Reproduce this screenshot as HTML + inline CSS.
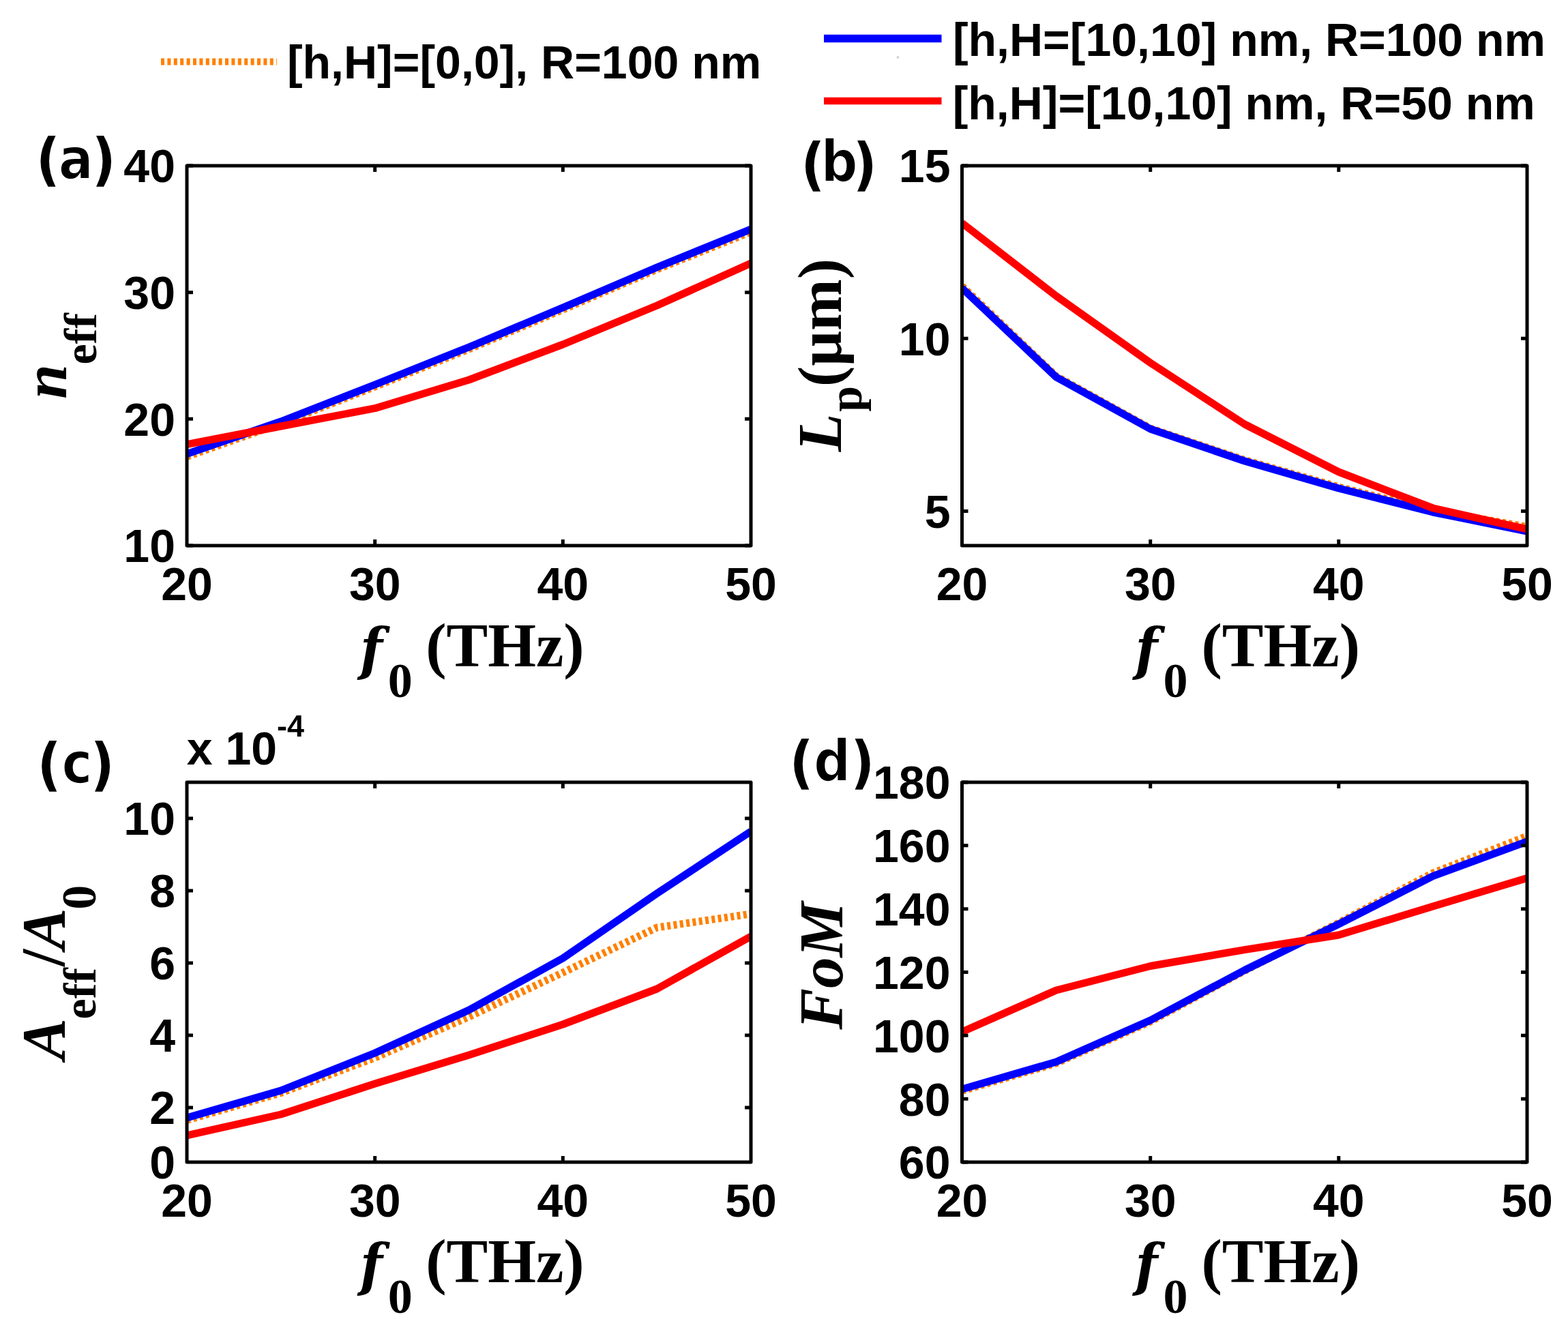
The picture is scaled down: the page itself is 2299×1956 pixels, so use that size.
<!DOCTYPE html>
<html><head><meta charset="utf-8"><title>Figure</title><style>html,body{margin:0;padding:0;background:#fff;overflow:hidden;}svg{display:block;}</style></head><body>
<svg width="2299" height="1956" viewBox="0 0 2299 1956">
<rect x="0" y="0" width="2299" height="1956" fill="#fff"/>
<line x1="236" y1="90.4" x2="406" y2="90.4" stroke="#ff8000" stroke-width="10" stroke-dasharray="5 4.4"/>
<line x1="1208" y1="56.5" x2="1380.5" y2="56.5" stroke="#0000ff" stroke-width="11.5"/>
<line x1="1208" y1="148" x2="1380.5" y2="148" stroke="#ff0000" stroke-width="10.6"/>
<circle cx="1316.5" cy="84" r="2" fill="#d4d4d4"/>
<text x="420.9" y="115.3" font-family='"Liberation Sans", Arial, sans-serif' font-weight="bold" font-size="68">[h,H]=[0,0], R=100 nm</text>
<text x="1396.9" y="81.5" font-family='"Liberation Sans", Arial, sans-serif' font-weight="bold" font-size="68">[h,H=[10,10] nm, R=100 nm</text>
<text x="1396.7" y="174.7" font-family='"Liberation Sans", Arial, sans-serif' font-weight="bold" font-size="68">[h,H]=[10,10] nm, R=50 nm</text>
<clipPath id="cpa"><rect x="274" y="243" width="827" height="557"/></clipPath>
<g fill="none" stroke-linejoin="round" stroke-width="11" clip-path="url(#cpa)">
<polyline points="274.0,669.5 411.8,621.0 549.7,567.0 687.5,512.0 825.3,454.0 963.2,395.0 1101.0,340.0" stroke="#ff8000" stroke-dasharray="5 4.4"/>
<polyline points="274.0,665.5 411.8,618.0 549.7,564.0 687.5,509.0 825.3,451.0 963.2,392.0 1101.0,336.0" stroke="#0000ff"/>
<polyline points="274.0,651.5 411.8,625.0 549.7,598.7 687.5,557.0 825.3,505.0 963.2,448.0 1101.0,386.0" stroke="#ff0000"/>
</g>
<rect x="274" y="243" width="827" height="557" fill="none" stroke="#000" stroke-width="5" stroke-linejoin="round"/>
<path d="M549.7,243v9M549.7,800v-9M825.3,243v9M825.3,800v-9M274,243h9M1101,243h-9M274,428.7h9M1101,428.7h-9M274,614.3h9M1101,614.3h-9M274,800h9M1101,800h-9" stroke="#000" stroke-width="5" fill="none"/>
<text x="274.0" y="880.0" font-family='"Liberation Sans", Arial, sans-serif' font-weight="bold" font-size="68" text-anchor="middle">20</text>
<text x="549.7" y="880.0" font-family='"Liberation Sans", Arial, sans-serif' font-weight="bold" font-size="68" text-anchor="middle">30</text>
<text x="825.3" y="880.0" font-family='"Liberation Sans", Arial, sans-serif' font-weight="bold" font-size="68" text-anchor="middle">40</text>
<text x="1101.0" y="880.0" font-family='"Liberation Sans", Arial, sans-serif' font-weight="bold" font-size="68" text-anchor="middle">50</text>
<text x="257.0" y="267.3" font-family='"Liberation Sans", Arial, sans-serif' font-weight="bold" font-size="68" text-anchor="end">40</text>
<text x="257.0" y="453.0" font-family='"Liberation Sans", Arial, sans-serif' font-weight="bold" font-size="68" text-anchor="end">30</text>
<text x="257.0" y="638.6" font-family='"Liberation Sans", Arial, sans-serif' font-weight="bold" font-size="68" text-anchor="end">20</text>
<text x="257.0" y="824.3" font-family='"Liberation Sans", Arial, sans-serif' font-weight="bold" font-size="68" text-anchor="end">10</text>
<text x="527.9" y="980.7" font-family='"DejaVu Serif Condensed", "DejaVu Serif", serif' font-weight="bold" font-size="85" font-style="italic">f</text>
<text x="568.7" y="1021.9" font-family='"Liberation Serif", "Times New Roman", serif' font-weight="bold" font-size="72">0</text>
<text x="624.2" y="977.2" font-family='"Liberation Serif", "Times New Roman", serif' font-weight="bold" font-size="91">(THz)</text>
<clipPath id="cpb"><rect x="1410.5" y="243" width="828.5" height="557"/></clipPath>
<g fill="none" stroke-linejoin="round" stroke-width="11" clip-path="url(#cpb)">
<polyline points="1410.5,419.5 1548.6,551.5 1686.7,628.0 1824.8,674.5 1962.8,714.0 2100.9,748.5 2239.0,772.5" stroke="#ff8000" stroke-dasharray="5 4.4"/>
<polyline points="1410.5,422.5 1548.6,553.0 1686.7,629.0 1824.8,676.0 1962.8,716.0 2100.9,751.0 2239.0,779.0" stroke="#0000ff"/>
<polyline points="1410.5,327.0 1548.6,434.0 1686.7,532.0 1824.8,622.0 1962.8,692.0 2100.9,745.0 2239.0,776.0" stroke="#ff0000"/>
</g>
<rect x="1410.5" y="243" width="828.5" height="557" fill="none" stroke="#000" stroke-width="5" stroke-linejoin="round"/>
<path d="M1686.7,243v9M1686.7,800v-9M1962.8,243v9M1962.8,800v-9M1410.5,243h9M2239,243h-9M1410.5,496.2h9M2239,496.2h-9M1410.5,749.6h9M2239,749.6h-9" stroke="#000" stroke-width="5" fill="none"/>
<text x="1410.5" y="880.0" font-family='"Liberation Sans", Arial, sans-serif' font-weight="bold" font-size="68" text-anchor="middle">20</text>
<text x="1686.7" y="880.0" font-family='"Liberation Sans", Arial, sans-serif' font-weight="bold" font-size="68" text-anchor="middle">30</text>
<text x="1962.8" y="880.0" font-family='"Liberation Sans", Arial, sans-serif' font-weight="bold" font-size="68" text-anchor="middle">40</text>
<text x="2239.0" y="880.0" font-family='"Liberation Sans", Arial, sans-serif' font-weight="bold" font-size="68" text-anchor="middle">50</text>
<text x="1393.5" y="267.3" font-family='"Liberation Sans", Arial, sans-serif' font-weight="bold" font-size="68" text-anchor="end">15</text>
<text x="1393.5" y="520.5" font-family='"Liberation Sans", Arial, sans-serif' font-weight="bold" font-size="68" text-anchor="end">10</text>
<text x="1393.5" y="773.9" font-family='"Liberation Sans", Arial, sans-serif' font-weight="bold" font-size="68" text-anchor="end">5</text>
<text x="1664.4" y="980.7" font-family='"DejaVu Serif Condensed", "DejaVu Serif", serif' font-weight="bold" font-size="85" font-style="italic">f</text>
<text x="1705.5" y="1021.9" font-family='"Liberation Serif", "Times New Roman", serif' font-weight="bold" font-size="72">0</text>
<text x="1761.5" y="977.2" font-family='"Liberation Serif", "Times New Roman", serif' font-weight="bold" font-size="91">(THz)</text>
<clipPath id="cpc"><rect x="274" y="1147" width="827" height="557"/></clipPath>
<g fill="none" stroke-linejoin="round" stroke-width="11" clip-path="url(#cpc)">
<polyline points="274.0,1642.5 411.8,1602.5 549.7,1551.0 687.5,1491.0 825.3,1426.0 963.2,1360.0 1101.0,1340.0" stroke="#ff8000" stroke-dasharray="5 4.4"/>
<polyline points="274.0,1639.0 411.8,1599.0 549.7,1544.0 687.5,1481.0 825.3,1405.0 963.2,1310.0 1101.0,1219.0" stroke="#0000ff"/>
<polyline points="274.0,1665.0 411.8,1634.0 549.7,1589.0 687.5,1547.0 825.3,1502.0 963.2,1450.0 1101.0,1373.0" stroke="#ff0000"/>
</g>
<rect x="274" y="1147" width="827" height="557" fill="none" stroke="#000" stroke-width="5" stroke-linejoin="round"/>
<path d="M549.7,1147v9M549.7,1704v-9M825.3,1147v9M825.3,1704v-9M274,1200h9M1101,1200h-9M274,1306h9M1101,1306h-9M274,1412h9M1101,1412h-9M274,1518h9M1101,1518h-9M274,1624h9M1101,1624h-9" stroke="#000" stroke-width="5" fill="none"/>
<text x="274.0" y="1784.0" font-family='"Liberation Sans", Arial, sans-serif' font-weight="bold" font-size="68" text-anchor="middle">20</text>
<text x="549.7" y="1784.0" font-family='"Liberation Sans", Arial, sans-serif' font-weight="bold" font-size="68" text-anchor="middle">30</text>
<text x="825.3" y="1784.0" font-family='"Liberation Sans", Arial, sans-serif' font-weight="bold" font-size="68" text-anchor="middle">40</text>
<text x="1101.0" y="1784.0" font-family='"Liberation Sans", Arial, sans-serif' font-weight="bold" font-size="68" text-anchor="middle">50</text>
<text x="257.0" y="1224.3" font-family='"Liberation Sans", Arial, sans-serif' font-weight="bold" font-size="68" text-anchor="end">10</text>
<text x="257.0" y="1330.3" font-family='"Liberation Sans", Arial, sans-serif' font-weight="bold" font-size="68" text-anchor="end">8</text>
<text x="257.0" y="1436.3" font-family='"Liberation Sans", Arial, sans-serif' font-weight="bold" font-size="68" text-anchor="end">6</text>
<text x="257.0" y="1542.3" font-family='"Liberation Sans", Arial, sans-serif' font-weight="bold" font-size="68" text-anchor="end">4</text>
<text x="257.0" y="1648.3" font-family='"Liberation Sans", Arial, sans-serif' font-weight="bold" font-size="68" text-anchor="end">2</text>
<text x="257.0" y="1728.3" font-family='"Liberation Sans", Arial, sans-serif' font-weight="bold" font-size="68" text-anchor="end">0</text>
<text x="527.9" y="1883.8" font-family='"DejaVu Serif Condensed", "DejaVu Serif", serif' font-weight="bold" font-size="85" font-style="italic">f</text>
<text x="568.7" y="1925.0" font-family='"Liberation Serif", "Times New Roman", serif' font-weight="bold" font-size="72">0</text>
<text x="624.2" y="1880.4" font-family='"Liberation Serif", "Times New Roman", serif' font-weight="bold" font-size="91">(THz)</text>
<clipPath id="cpd"><rect x="1410.5" y="1147" width="828.5" height="557"/></clipPath>
<g fill="none" stroke-linejoin="round" stroke-width="11" clip-path="url(#cpd)">
<polyline points="1410.5,1599.5 1548.6,1559.0 1686.7,1498.0 1824.8,1423.5 1962.8,1353.0 2100.9,1280.0 2239.0,1226.0" stroke="#ff8000" stroke-dasharray="5 4.4"/>
<polyline points="1410.5,1597.0 1548.6,1557.0 1686.7,1496.0 1824.8,1422.5 1962.8,1355.0 2100.9,1284.6 2239.0,1234.0" stroke="#0000ff"/>
<polyline points="1410.5,1513.0 1548.6,1452.0 1686.7,1416.5 1824.8,1392.6 1962.8,1371.0 2100.9,1329.0 2239.0,1287.5" stroke="#ff0000"/>
</g>
<rect x="1410.5" y="1147" width="828.5" height="557" fill="none" stroke="#000" stroke-width="5" stroke-linejoin="round"/>
<path d="M1686.7,1147v9M1686.7,1704v-9M1962.8,1147v9M1962.8,1704v-9M1410.5,1147h9M2239,1147h-9M1410.5,1239.8h9M2239,1239.8h-9M1410.5,1332.7h9M2239,1332.7h-9M1410.5,1425.5h9M2239,1425.5h-9M1410.5,1518.3h9M2239,1518.3h-9M1410.5,1611.2h9M2239,1611.2h-9M1410.5,1704h9M2239,1704h-9" stroke="#000" stroke-width="5" fill="none"/>
<text x="1410.5" y="1784.0" font-family='"Liberation Sans", Arial, sans-serif' font-weight="bold" font-size="68" text-anchor="middle">20</text>
<text x="1686.7" y="1784.0" font-family='"Liberation Sans", Arial, sans-serif' font-weight="bold" font-size="68" text-anchor="middle">30</text>
<text x="1962.8" y="1784.0" font-family='"Liberation Sans", Arial, sans-serif' font-weight="bold" font-size="68" text-anchor="middle">40</text>
<text x="2239.0" y="1784.0" font-family='"Liberation Sans", Arial, sans-serif' font-weight="bold" font-size="68" text-anchor="middle">50</text>
<text x="1393.5" y="1171.3" font-family='"Liberation Sans", Arial, sans-serif' font-weight="bold" font-size="68" text-anchor="end">180</text>
<text x="1393.5" y="1264.1" font-family='"Liberation Sans", Arial, sans-serif' font-weight="bold" font-size="68" text-anchor="end">160</text>
<text x="1393.5" y="1357.0" font-family='"Liberation Sans", Arial, sans-serif' font-weight="bold" font-size="68" text-anchor="end">140</text>
<text x="1393.5" y="1449.8" font-family='"Liberation Sans", Arial, sans-serif' font-weight="bold" font-size="68" text-anchor="end">120</text>
<text x="1393.5" y="1542.6" font-family='"Liberation Sans", Arial, sans-serif' font-weight="bold" font-size="68" text-anchor="end">100</text>
<text x="1393.5" y="1635.5" font-family='"Liberation Sans", Arial, sans-serif' font-weight="bold" font-size="68" text-anchor="end">80</text>
<text x="1393.5" y="1728.3" font-family='"Liberation Sans", Arial, sans-serif' font-weight="bold" font-size="68" text-anchor="end">60</text>
<text x="1664.4" y="1883.8" font-family='"DejaVu Serif Condensed", "DejaVu Serif", serif' font-weight="bold" font-size="85" font-style="italic">f</text>
<text x="1705.5" y="1925.0" font-family='"Liberation Serif", "Times New Roman", serif' font-weight="bold" font-size="72">0</text>
<text x="1761.5" y="1880.4" font-family='"Liberation Serif", "Times New Roman", serif' font-weight="bold" font-size="91">(THz)</text>
<text transform="translate(97.0,584.8) rotate(-90)" font-family='"Liberation Serif", "Times New Roman", serif' font-weight="bold" font-size="91" font-style="italic">n</text>
<text transform="translate(140.6,534.6) rotate(-90)" font-family='"Liberation Serif", "Times New Roman", serif' font-weight="bold" font-size="68">eff</text>
<text transform="translate(1233.1,662.2) rotate(-90)" font-family='"Liberation Serif", "Times New Roman", serif' font-weight="bold" font-size="91" font-style="italic">L</text>
<text transform="translate(1262.7,603.8) rotate(-90)" font-family='"Liberation Serif", "Times New Roman", serif' font-weight="bold" font-size="68">p</text>
<text transform="translate(1233.0,567.0) rotate(-90)" font-family='"Liberation Serif", "Times New Roman", serif' font-weight="bold" font-size="91">(μm)</text>
<text transform="translate(94.8,1553.7) rotate(-90)" font-family='"Liberation Serif", "Times New Roman", serif' font-weight="bold" font-size="91" font-style="italic">A</text>
<text transform="translate(140.2,1494.5) rotate(-90)" font-family='"Liberation Serif", "Times New Roman", serif' font-weight="bold" font-size="68">eff</text>
<text transform="translate(94.3,1416.9) rotate(-90)" font-family='"Liberation Serif", "Times New Roman", serif' font-weight="bold" font-size="91">/</text>
<text transform="translate(94.8,1392.3) rotate(-90)" font-family='"Liberation Serif", "Times New Roman", serif' font-weight="bold" font-size="91" font-style="italic">A</text>
<text transform="translate(139.7,1333.8) rotate(-90)" font-family='"Liberation Serif", "Times New Roman", serif' font-weight="bold" font-size="72">0</text>
<text transform="translate(1234.7,1509.7) rotate(-90)" font-family='"Liberation Serif", "Times New Roman", serif' font-weight="bold" font-size="91" font-style="italic">FoM</text>
<text x="273.8" y="1120.7" font-family='"Liberation Sans", Arial, sans-serif' font-weight="bold" font-size="68">x 10</text>
<text x="405.9" y="1079.8" font-family='"Liberation Sans", Arial, sans-serif' font-weight="bold" font-size="45">-4</text>
<text x="52.9" y="263.0" font-family='"DejaVu Sans Condensed", "DejaVu Sans", sans-serif' font-weight="bold" font-size="84">(</text>
<text x="85.7" y="262.2" font-family='"DejaVu Sans Condensed", "DejaVu Sans", sans-serif' font-weight="bold" font-size="84" stroke="#fff" stroke-width="1.6">a</text>
<text x="135.1" y="263.0" font-family='"DejaVu Sans Condensed", "DejaVu Sans", sans-serif' font-weight="bold" font-size="84">)</text>
<text x="1174.5" y="269.5" font-family='"DejaVu Sans Condensed", "DejaVu Sans", sans-serif' font-weight="bold" font-size="84">(</text>
<text x="1203.5" y="265.5" font-family='"DejaVu Sans Condensed", "DejaVu Sans", sans-serif' font-weight="bold" font-size="84" stroke="#fff" stroke-width="1.6">b</text>
<text x="1250.9" y="269.5" font-family='"DejaVu Sans Condensed", "DejaVu Sans", sans-serif' font-weight="bold" font-size="84">)</text>
<text x="54.8" y="1150.4" font-family='"DejaVu Sans Condensed", "DejaVu Sans", sans-serif' font-weight="bold" font-size="84">(</text>
<text x="90.5" y="1148.2" font-family='"DejaVu Sans Condensed", "DejaVu Sans", sans-serif' font-weight="bold" font-size="84" stroke="#fff" stroke-width="1.6">c</text>
<text x="133.1" y="1150.4" font-family='"DejaVu Sans Condensed", "DejaVu Sans", sans-serif' font-weight="bold" font-size="84">)</text>
<text x="1157.8" y="1147.4" font-family='"DejaVu Sans Condensed", "DejaVu Sans", sans-serif' font-weight="bold" font-size="84">(</text>
<text x="1193.1" y="1144.8" font-family='"DejaVu Sans Condensed", "DejaVu Sans", sans-serif' font-weight="bold" font-size="84" stroke="#fff" stroke-width="1.6">d</text>
<text x="1247.6" y="1147.4" font-family='"DejaVu Sans Condensed", "DejaVu Sans", sans-serif' font-weight="bold" font-size="84">)</text>
</svg>
</body></html>
